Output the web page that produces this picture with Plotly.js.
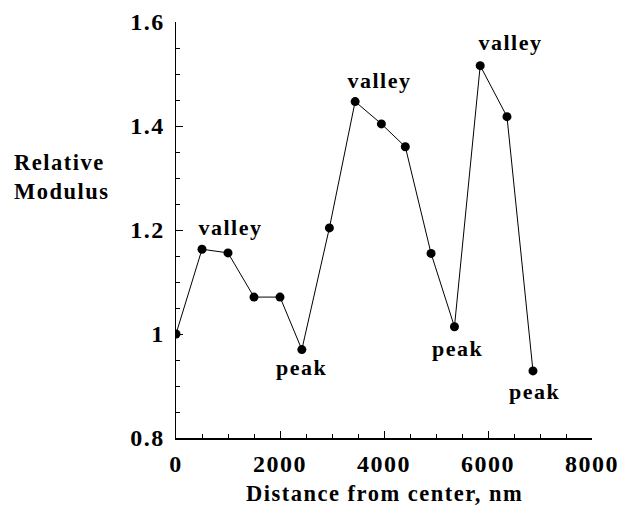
<!DOCTYPE html>
<html>
<head>
<meta charset="utf-8">
<script src="https://cdn.plot.ly/plotly-3.0.1.min.js"></script>
<style>
html,body{margin:0;padding:0;background:#fff;}
#chart{width:620px;height:509px;}
.main-svg text{letter-spacing:1.5px;}
</style>
</head>
<body>
<div id="chart"></div>
<script>
// Data
const distance = [0, 500, 1000, 1500, 2000, 2420, 2950, 3445, 3950, 4410, 4905, 5355, 5850, 6365, 6865];
const modulus  = [1.0, 1.163, 1.156, 1.071, 1.071, 0.970, 1.204, 1.447, 1.404, 1.360, 1.155, 1.014, 1.516, 1.418, 0.929];

const labelTexts = ["valley", "peak", "valley", "peak", "valley", "peak"];
const labelX     = [1047, 2417, 3921, 5425, 6428, 6910];
const labelY     = [1.204, 0.9365, 1.488, 0.973, 1.56, 0.890];

const xTitle = "Distance from center, nm";
const yTitle = "Relative<br>Modulus";

const fontFam = "Liberation Serif, Times New Roman, serif";
const tickFont = {family: fontFam, size: 24, color: "#000", weight: "bold"};
const titleFont = {family: fontFam, size: 22.5, color: "#000", weight: "bold"};

const trace = {
  x: distance, y: modulus,
  type: "scatter", mode: "lines+markers",
  line: {color: "#000", width: 1},
  marker: {color: "#000", size: 9, symbol: "circle"},
  hoverinfo: "skip", showlegend: false
};

const annotations = labelTexts.map((t, i) => ({
  text: t, x: labelX[i], y: labelY[i], xref: "x", yref: "y",
  showarrow: false, xanchor: "center", yanchor: "middle",
  font: {family: fontFam, size: 22, color: "#000", weight: "bold"}
}));

annotations.push({
  text: xTitle, xref: "paper", yref: "paper", x: 0.5, y: -0.1346,
  showarrow: false, xanchor: "center", yanchor: "middle",
  font: titleFont
});
annotations.push({
  text: yTitle, xref: "paper", yref: "paper", x: -0.3935, y: 0.627,
  showarrow: false, xanchor: "left", yanchor: "middle", align: "left",
  font: titleFont
});

const layout = {
  width: 620, height: 509,
  margin: {l: 176, r: 28, t: 22, b: 71, pad: 0},
  paper_bgcolor: "#fff", plot_bgcolor: "#fff",
  showlegend: false,
  font: tickFont,
  xaxis: {
    range: [0, 8000], dtick: 2000, tick0: 0,
    showgrid: false, zeroline: false,
    showline: true, linecolor: "#000", linewidth: 1.5,
    ticks: "inside", ticklen: 7, tickwidth: 1, tickcolor: "#000",
    minor: {dtick: 500, ticks: "inside", ticklen: 4, tickwidth: 1, tickcolor: "#000", showgrid: false},
    tickfont: tickFont, ticklabelstandoff: 4,
    fixedrange: true
  },
  yaxis: {
    range: [0.8, 1.6], dtick: 0.2, tick0: 0.8,
    showgrid: false, zeroline: false,
    showline: true, linecolor: "#000", linewidth: 1.5,
    ticks: "inside", ticklen: 7, tickwidth: 1, tickcolor: "#000",
    minor: {dtick: 0.05, ticks: "inside", ticklen: 4, tickwidth: 1, tickcolor: "#000", showgrid: false},
    tickfont: tickFont, ticklabelstandoff: 5,
    fixedrange: true
  },
  annotations: annotations
};

Plotly.newPlot("chart", [trace], layout, {staticPlot: true, displayModeBar: false});
</script>
</body>
</html>
